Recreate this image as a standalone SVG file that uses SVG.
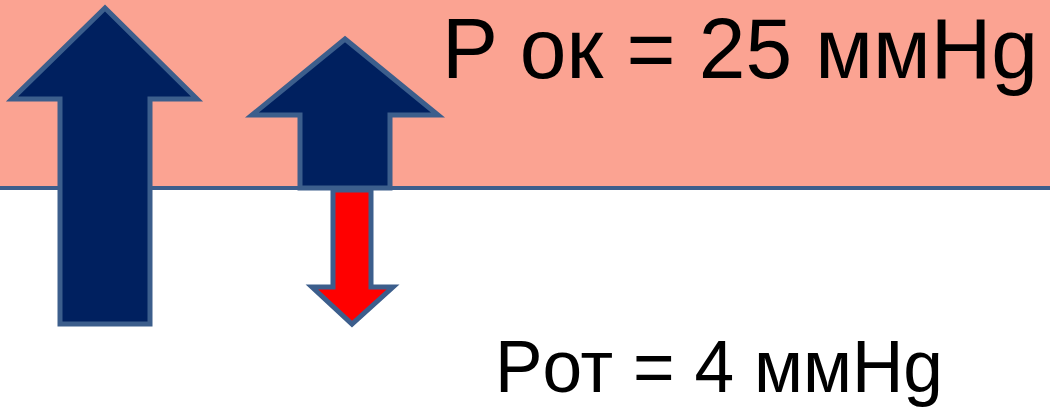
<svg xmlns="http://www.w3.org/2000/svg" width="1050" height="408" viewBox="0 0 1050 408">
<style>
.arrow{stroke:#3c5e8c;stroke-width:5;stroke-linejoin:miter}
.blue{fill:#00205f}
.red{fill:#ff0000}
.lbl{font-family:"Liberation Sans",Arial,sans-serif;fill:#000}
</style>
<rect x="0" y="0" width="1050" height="188" fill="#fba392"/>
<rect x="0" y="188" width="1050" height="220" fill="#ffffff"/>
<g id="connectors">
<line x1="0" y1="188" x2="1050" y2="188" stroke="#3c5e8c" stroke-width="4"/>
</g>
<g id="big-up-arrow">
<polygon class="arrow blue" points="105,8 197,99 150,99 150,324 60,324 60,99 12,99"/>
</g>
<g id="small-up-arrow">
<polygon class="arrow blue" points="345,39 438,115 390,115 390,188 300,188 300,115 252,115"/>
</g>
<g id="red-down-arrow">
<polygon class="arrow red" points="333,190 371,190 371,287 393,287 352,324 312,287 333,287"/>
</g>
<g id="label-top">
<text class="lbl" x="442" y="78" font-size="85" textLength="596" lengthAdjust="spacingAndGlyphs">P ок = 25 ммHg</text>
</g>
<g id="label-bottom">
<text class="lbl" x="495" y="392" font-size="74" textLength="448" lengthAdjust="spacingAndGlyphs">Pот = 4 ммHg</text>
</g>
</svg>
